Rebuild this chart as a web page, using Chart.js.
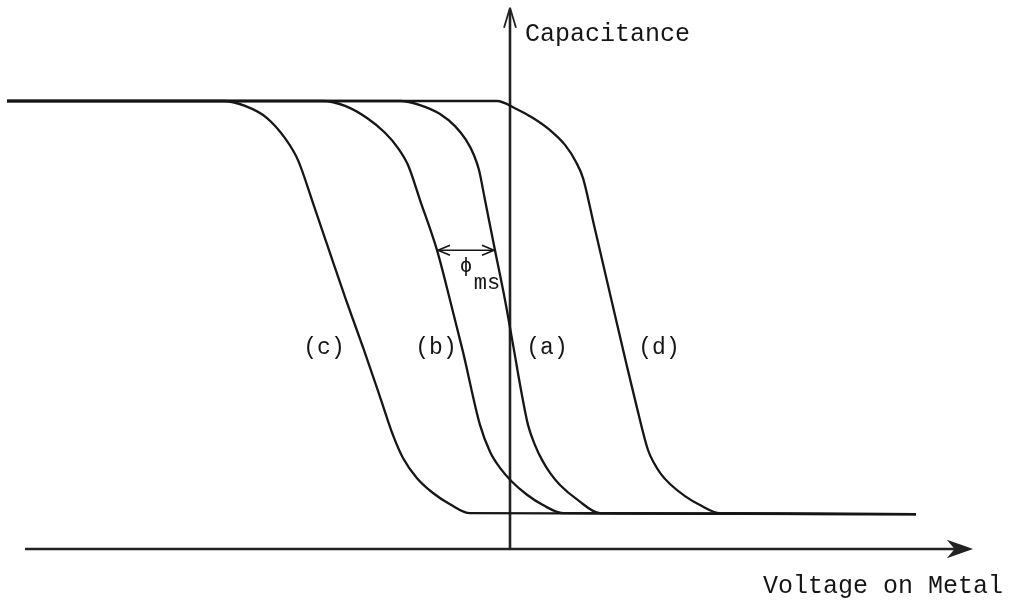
<!DOCTYPE html>
<html>
<head>
<meta charset="utf-8">
<script src="https://cdn.jsdelivr.net/npm/chart.js@4/dist/chart.umd.min.js"></script>
<style>
  html, body { margin: 0; padding: 0; background: #ffffff; }
  #wrap { width: 1021px; height: 603px; }
</style>
</head>
<body>
<div id="wrap"><canvas id="cv" width="1021" height="603"></canvas></div>
<script>
// C–V curves of an MOS capacitor: normalised capacitance vs. voltage on the metal.
// (a) ideal, (b) shifted by the work-function difference, (c) with extra oxide charge, (d) opposite shift.

const curveNames = ['(a)', '(b)', '(c)', '(d)'];

const curveA_V = [-5.03, -1.10, -0.90, -0.70, -0.55, -0.44, -0.36, -0.31, -0.25, -0.15, -0.05, 0.04, 0.11, 0.18, 0.25, 0.32, 0.40, 0.50, 0.68, 0.90, 4.06];
const curveA_C = [1.000, 1.000, 0.991, 0.971, 0.944, 0.913, 0.879, 0.846, 0.779, 0.667, 0.556, 0.444, 0.355, 0.277, 0.232, 0.199, 0.170, 0.143, 0.109, 0.080, 0.078];

const curveB_V = [-5.03, -1.87, -1.65, -1.43, -1.25, -1.12, -1.02, -0.90, -0.73, -0.60, -0.47, -0.30, -0.20, -0.10, 0.02, 0.17, 0.33, 0.53, 4.06];
const curveB_C = [1.000, 1.000, 0.989, 0.962, 0.929, 0.895, 0.857, 0.779, 0.667, 0.556, 0.440, 0.277, 0.217, 0.181, 0.150, 0.121, 0.098, 0.080, 0.078];

const curveC_V = [-5.03, -2.87, -2.65, -2.43, -2.25, -2.12, -1.98, -1.81, -1.64, -1.46, -1.29, -1.17, -1.07, -0.93, -0.77, -0.60, -0.40, 4.06];
const curveC_C = [1.000, 1.000, 0.989, 0.962, 0.917, 0.868, 0.779, 0.667, 0.556, 0.444, 0.333, 0.254, 0.203, 0.158, 0.125, 0.100, 0.080, 0.078];

const curveD_V = [-5.03, -0.13, 0.05, 0.23, 0.40, 0.55, 0.66, 0.73, 0.84, 0.94, 1.05, 1.16, 1.27, 1.38, 1.44, 1.51, 1.60, 1.75, 1.90, 2.10, 4.06];
const curveD_C = [1.000, 1.000, 0.984, 0.962, 0.935, 0.902, 0.864, 0.828, 0.723, 0.627, 0.522, 0.417, 0.315, 0.221, 0.192, 0.167, 0.145, 0.118, 0.098, 0.080, 0.078];

// Capacitance level at which the work-function shift φms is marked between (b) and (a)
const phiMsLevel = 0.667;

const xAxisLabel = 'Voltage on Metal';
const yAxisLabel = 'Capacitance';

const INK = '#161616';
const FONT = "'Liberation Mono', 'Courier New', monospace";

function toPoints(vs, cs) {
  return vs.map((v, i) => ({ x: v, y: cs[i] }));
}

// voltage on a curve at a given capacitance (linear between samples on the falling part)
function voltageAt(vs, cs, level) {
  for (let i = 0; i < cs.length - 1; i++) {
    const c0 = cs[i], c1 = cs[i + 1];
    if ((c0 - level) * (c1 - level) <= 0 && c0 !== c1) {
      const t = (level - c0) / (c1 - c0);
      return vs[i] + t * (vs[i + 1] - vs[i]);
    }
  }
  return null;
}

const curves = [
  { name: curveNames[0], v: curveA_V, c: curveA_C },
  { name: curveNames[1], v: curveB_V, c: curveB_C },
  { name: curveNames[2], v: curveC_V, c: curveC_C },
  { name: curveNames[3], v: curveD_V, c: curveD_C }
];

function arrowHead(ctx, x, y, angle, len, spread, filled) {
  ctx.save();
  ctx.translate(x, y);
  ctx.rotate(angle);
  ctx.beginPath();
  ctx.moveTo(0, 0);
  ctx.lineTo(-len, -spread);
  if (filled) {
    ctx.lineTo(-len * 0.7, 0);
    ctx.lineTo(-len, spread);
    ctx.closePath();
    ctx.fill();
    ctx.stroke();
  } else {
    ctx.moveTo(0, 0);
    ctx.lineTo(-len, spread);
    ctx.stroke();
  }
  ctx.restore();
}

const diagramPlugin = {
  id: 'mosDiagram',
  beforeDatasetsDraw(chart) {
    const { ctx, scales: { x, y } } = chart;
    const x0 = x.getPixelForValue(0);
    const y0 = y.getPixelForValue(0);
    ctx.save();
    ctx.strokeStyle = '#222';
    ctx.fillStyle = '#222';
    ctx.lineWidth = 2.6;
    ctx.lineCap = 'butt';

    // horizontal (voltage) axis
    const xl = x.getPixelForValue(-4.85);
    const xr = x.getPixelForValue(4.60);
    ctx.beginPath();
    ctx.moveTo(xl, y0);
    ctx.lineTo(xr - 4, y0);
    ctx.stroke();
    ctx.lineWidth = 2;
    arrowHead(ctx, xr, y0, 0, 20, 7, true);

    // vertical (capacitance) axis
    const yt = y.getPixelForValue(1.208);
    ctx.lineWidth = 2.6;
    ctx.beginPath();
    ctx.moveTo(x0, y0);
    ctx.lineTo(x0, yt + 2);
    ctx.stroke();
    ctx.lineWidth = 1.8;
    arrowHead(ctx, x0, yt, -Math.PI / 2, 20, 6, false);
    ctx.restore();
  },
  afterDatasetsDraw(chart) {
    const { ctx, scales: { x, y } } = chart;
    const x0 = x.getPixelForValue(0);
    const y0 = y.getPixelForValue(0);
    ctx.save();
    ctx.fillStyle = INK;
    ctx.strokeStyle = INK;

    // axis titles
    ctx.font = '25px ' + FONT;
    ctx.textBaseline = 'alphabetic';
    ctx.textAlign = 'left';
    ctx.fillText(yAxisLabel, x0 + 15, y.getPixelForValue(1.135));
    ctx.fillText(xAxisLabel, x.getPixelForValue(2.53), y0 + 44);

    // curve labels
    const labelPos = { '(a)': 0.37, '(b)': -0.74, '(c)': -1.86, '(d)': 1.49 };
    ctx.font = '23px ' + FONT;
    ctx.textAlign = 'center';
    ctx.textBaseline = 'middle';
    curves.forEach(cv => {
      ctx.fillText(cv.name, x.getPixelForValue(labelPos[cv.name]), y.getPixelForValue(0.449));
    });

    // φms marker between curves (b) and (a)
    const vb = voltageAt(curveB_V, curveB_C, phiMsLevel);
    const va = voltageAt(curveA_V, curveA_C, phiMsLevel);
    const pb = x.getPixelForValue(vb);
    const pa = x.getPixelForValue(va);
    const py = y.getPixelForValue(phiMsLevel);
    ctx.lineWidth = 1.6;
    ctx.beginPath();
    ctx.moveTo(pb + 2, py);
    ctx.lineTo(pa - 2, py);
    ctx.stroke();
    arrowHead(ctx, pb + 1, py, Math.PI, 12, 5, false);
    arrowHead(ctx, pa - 1, py, 0, 12, 5, false);

    ctx.font = '21px ' + FONT;
    ctx.textAlign = 'center';
    ctx.fillText('\u03D5', pb + 29, py + 16);
    ctx.font = '22px ' + FONT;
    ctx.fillText('ms', pb + 50, py + 33);
    ctx.restore();
  }
};

new Chart(document.getElementById('cv'), {
  type: 'scatter',
  data: {
    datasets: curves.map(cv => ({
      label: cv.name,
      data: toPoints(cv.v, cv.c),
      showLine: true,
      borderColor: INK,
      borderWidth: 2.3,
      pointRadius: 0,
      pointHoverRadius: 0,
      fill: false,
      cubicInterpolationMode: 'monotone'
    }))
  },
  options: {
    responsive: false,
    devicePixelRatio: 1,
    animation: false,
    layout: { padding: 0 },
    plugins: {
      legend: { display: false },
      tooltip: { enabled: false },
      title: { display: false }
    },
    scales: {
      x: { type: 'linear', min: -5.10, max: 5.11, display: false },
      y: { type: 'linear', min: -0.12054, max: 1.22545, display: false }
    }
  },
  plugins: [diagramPlugin]
});
</script>
</body>
</html>
